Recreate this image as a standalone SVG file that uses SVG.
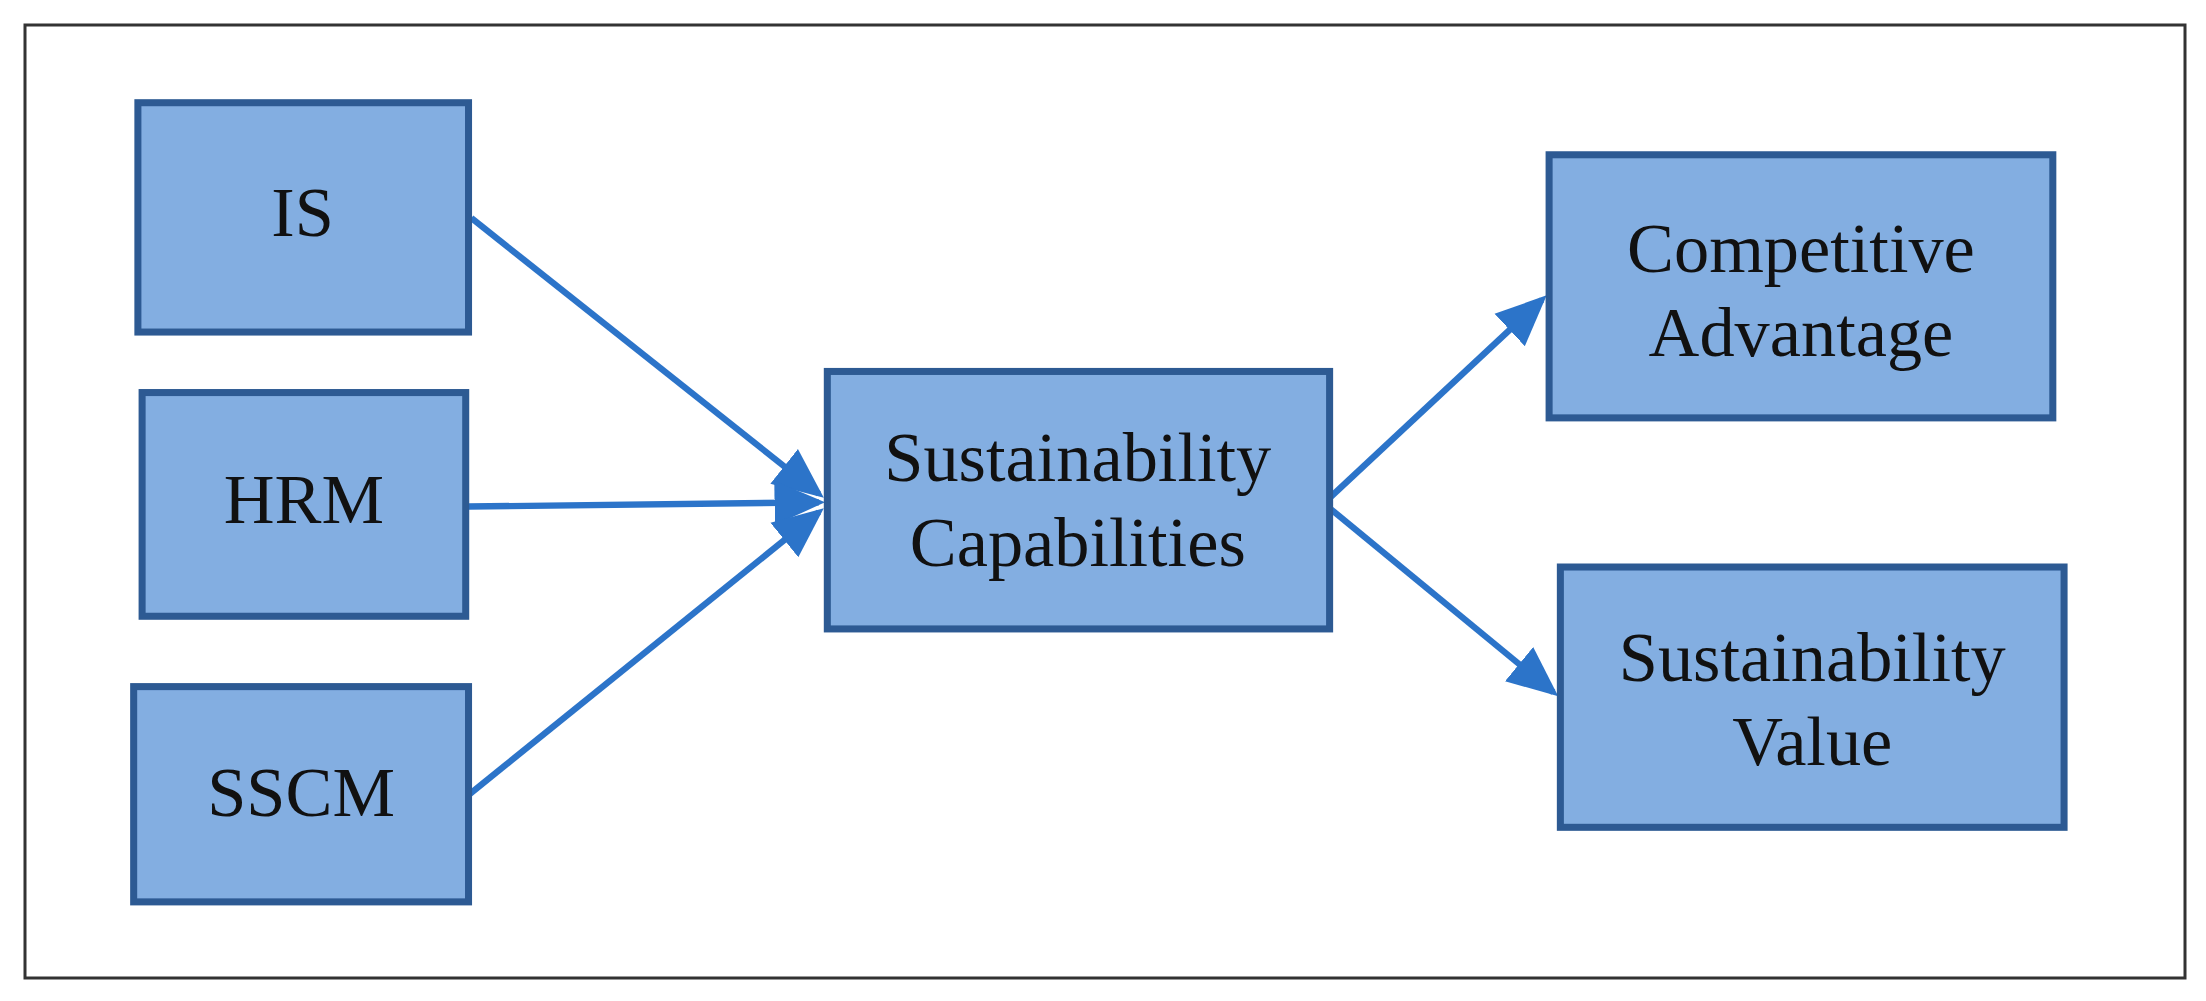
<svg xmlns="http://www.w3.org/2000/svg" width="2206" height="1001" viewBox="0 0 2206 1001">
<style>
.box{fill:#83AEE1;stroke:#2D5A93;stroke-width:5}
.t{font-family:"Liberation Serif",serif;font-size:50px;fill:#111;text-anchor:middle}
.c{stroke:#2C74C9;stroke-width:4.5;fill:none;marker-end:url(#a)}
</style>
<defs><marker id="a" markerWidth="8" markerHeight="8" refX="7" refY="4" orient="auto" markerUnits="strokeWidth"><path d="M0,0.5 L8,4 L0,7.5 Z" fill="#2C74C9"/></marker></defs>
<rect x="25" y="25" width="2160" height="953" fill="#fff" stroke="#333" stroke-width="3"/>
<g transform="scale(1.407)">
<g id="connectors">
<path class="c" d="M335,155 L582,351"/>
<path class="c" d="M333,360 L582,357"/>
<path class="c" d="M333,565 L582,364"/>
<path class="c" d="M946,353 L1096,213"/>
<path class="c" d="M946,362 L1104,492"/>
</g>
<g id="is"><rect class="box" x="98" y="73" width="235" height="163"/><text class="t" x="215" y="168">IS</text></g>
<g id="hrm"><rect class="box" x="101" y="279" width="230" height="159"/><text class="t" x="216" y="372">HRM</text></g>
<g id="sscm"><rect class="box" x="95" y="488" width="238" height="153"/><text class="t" x="214" y="580">SSCM</text></g>
<g id="sc"><rect class="box" x="588" y="264" width="357" height="183"/><text class="t" x="766" y="342">Sustainability</text><text class="t" x="766" y="402">Capabilities</text></g>
<g id="ca"><rect class="box" x="1101" y="110" width="358" height="187"/><text class="t" x="1280" y="193">Competitive</text><text class="t" x="1280" y="253">Advantage</text></g>
<g id="sv"><rect class="box" x="1109" y="403" width="358" height="185"/><text class="t" x="1288" y="484">Sustainability</text><text class="t" x="1288" y="544">Value</text></g>
</g>
</svg>
